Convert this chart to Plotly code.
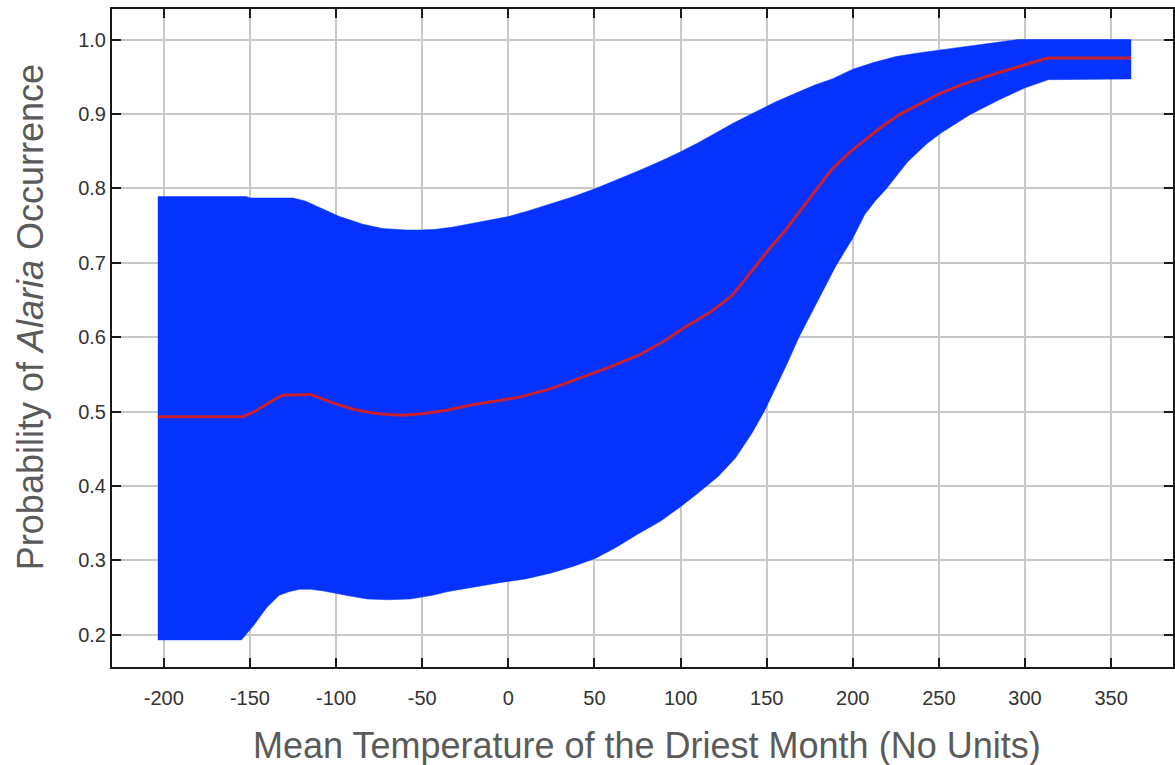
import plotly.graph_objects as go

# Data
upper_x = [-203.5, -152, -150, -125, -118, -110, -104, -98, -90, -85, -79, -73, -66, -59, -50,
           -42, -32, -21, -10, 0, 12, 25, 38, 51, 63, 75, 88, 100, 110, 120, 131, 142, 155, 169,
           178, 188, 200, 212, 225, 238, 251, 263, 275, 286, 296, 361.6]
upper_y = [0.789, 0.789, 0.787, 0.787, 0.783, 0.775, 0.768, 0.762, 0.756, 0.752, 0.749, 0.746,
           0.745, 0.744, 0.744, 0.745, 0.748, 0.753, 0.757, 0.762, 0.770, 0.779, 0.789, 0.800,
           0.811, 0.823, 0.836, 0.849, 0.861, 0.874, 0.888, 0.901, 0.916, 0.930, 0.939, 0.947,
           0.960, 0.969, 0.977, 0.982, 0.986, 0.990, 0.994, 0.997, 1.0, 1.0]

lower_x = [-203.5, -155, -148, -140.5, -133, -127, -121, -115, -108, -102, -92, -82, -70, -57,
           -44, -35, -25, -15, -5, 10, 25, 38, 51, 63, 75, 88, 100, 110, 122, 132, 141.5, 149,
           155, 161, 169, 175, 180, 185, 190, 195, 200, 207, 213, 219, 226, 232, 243, 251, 268,
           285, 300, 313.5, 361.6]
lower_y = [0.193, 0.193, 0.212, 0.236, 0.253, 0.258, 0.261, 0.261, 0.259, 0.256, 0.252, 0.248,
           0.247, 0.248, 0.253, 0.258, 0.262, 0.265, 0.270, 0.275, 0.283, 0.292, 0.303, 0.318,
           0.335, 0.352, 0.372, 0.390, 0.413, 0.438, 0.471, 0.502, 0.531, 0.560, 0.601, 0.628,
           0.650, 0.673, 0.695, 0.714, 0.733, 0.765, 0.783, 0.798, 0.818, 0.836, 0.860, 0.874,
           0.899, 0.919, 0.935, 0.946, 0.947]

mean_x = [-203.5, -154, -148, -142.6, -136, -131, -115, -108, -100, -90, -79, -70, -61, -50, -35,
          -21, -7, 6, 24, 41, 58, 76, 90, 103, 117, 130, 141.5, 151, 161, 170, 180, 188, 198, 207,
          217, 227, 240, 251, 264, 277, 288, 300, 313, 361.6]
mean_y = [0.493, 0.493, 0.499, 0.507, 0.516, 0.522, 0.523, 0.517, 0.510, 0.503, 0.498, 0.496,
          0.495, 0.497, 0.502, 0.509, 0.514, 0.519, 0.530, 0.545, 0.559, 0.576, 0.594, 0.614,
          0.633, 0.656, 0.690, 0.717, 0.744, 0.772, 0.802, 0.826, 0.848, 0.865, 0.883, 0.899,
          0.915, 0.928, 0.940, 0.950, 0.958, 0.966, 0.975, 0.975]

x_ticks = [-200, -150, -100, -50, 0, 50, 100, 150, 200, 250, 300, 350]
x_tick_text = ["-200", "-150", "-100", "-50", "0", "50", "100", "150", "200", "250", "300", "350"]
y_ticks = [0.2, 0.3, 0.4, 0.5, 0.6, 0.7, 0.8, 0.9, 1.0]
y_tick_text = ["0.2", "0.3", "0.4", "0.5", "0.6", "0.7", "0.8", "0.9", "1.0"]

BLUE = "#0532ff"
RED = "#c8202f"
FONT = "Liberation Sans, Arial, sans-serif"

fig = go.Figure()
fig.add_trace(go.Scatter(x=lower_x, y=lower_y, mode="lines", line=dict(color=BLUE, width=0.5),
                         hoverinfo="skip", showlegend=False))
fig.add_trace(go.Scatter(x=upper_x, y=upper_y, mode="lines", line=dict(color=BLUE, width=0.5),
                         fill="tonexty", fillcolor=BLUE, hoverinfo="skip", showlegend=False))
fig.add_trace(go.Scatter(x=mean_x, y=mean_y, mode="lines", line=dict(color=RED, width=3),
                         showlegend=False))

axis_common = dict(
    showline=True, linecolor="#1a1a1a", linewidth=2, mirror="ticks",
    ticks="inside", ticklen=9, tickwidth=2, tickcolor="#1a1a1a",
    showgrid=True, gridcolor="#c8c8c8", gridwidth=1.5, zeroline=False,
    tickfont=dict(family=FONT, size=20, color="#333333"),
)

fig.update_xaxes(range=[-230.1, 385.9], tickvals=x_ticks, ticktext=x_tick_text,
                 ticklabelstandoff=12, **axis_common)
fig.update_yaxes(range=[0.1566, 1.041], tickvals=y_ticks, ticktext=y_tick_text, **axis_common)

fig.update_layout(
    width=1175, height=765,
    margin=dict(l=112, r=0, t=9, b=98),
    plot_bgcolor="white", paper_bgcolor="white",
    annotations=[
        dict(text="Mean Temperature of the Driest Month (No Units)", xref="paper", yref="paper",
             x=(648.5 - 112) / 1063, y=(667 - 745) / 658, xanchor="center", yanchor="middle",
             showarrow=False, font=dict(family=FONT, size=36, color="#5a5a5a")),
        dict(text="Probability of <i>Alaria</i> Occurrence", xref="paper", yref="paper",
             x=(30 - 112) / 1063, y=(667 - 317) / 658, xanchor="center", yanchor="middle",
             textangle=-90, showarrow=False, font=dict(family=FONT, size=36, color="#5a5a5a")),
    ],
)

fig.write_html("out.html")
